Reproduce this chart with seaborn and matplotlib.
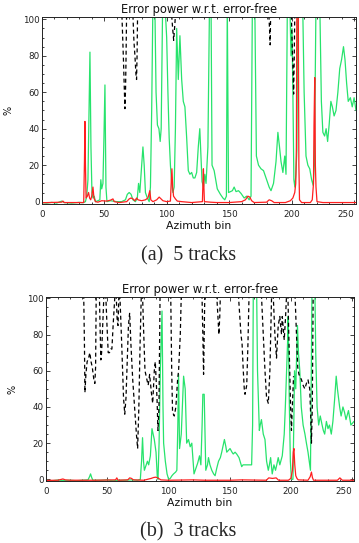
import numpy as np
import pandas as pd
import matplotlib
matplotlib.use("Agg")
import matplotlib.pyplot as plt
from matplotlib.ticker import MultipleLocator
import seaborn as sns

# ---------------- data ----------------
# Panel (a): 5 tracks
a_green_x = [0, 4, 8, 12, 16, 18, 24, 30, 33, 35, 36, 37, 37.8, 38.6, 39.4, 40.2, 41, 42, 43, 45, 46.5, 47.3, 48, 49,
             49.8, 50.6, 51.4, 52.2, 55, 60, 64, 67, 68.5, 70, 71.5, 73, 75, 76.5, 77.5, 78.5, 79.5, 81, 82, 83, 84.5,
             86, 87, 88, 89, 90.5, 91.5, 92.6, 93.8, 94.8, 95.6, 96.8, 98.5, 100, 101, 102, 103, 104, 105, 106, 107,
             108, 109.3, 110.6, 112, 113.3, 114.6, 116, 117.3, 118.6, 120, 121.3, 122.6, 124, 125.3, 126.5, 127.3,
             128.3, 129.5, 130.5, 131.5, 133, 134.3, 135.5, 136.3, 138, 140.5, 143, 145, 146.5, 147.8, 148.5, 149.5,
             151, 152.6, 154, 155.5, 157.5, 159.5, 162, 164, 166, 167.5, 168.6, 170.5, 171.8, 173.5, 175.5, 177.5,
             180, 182, 183.5, 185.5, 187.5, 189, 190.3, 191.5, 193, 194.5, 195.5, 196.6, 198.5, 199.5, 200.3, 201,
             201.8, 202.6, 203.4, 204.2, 205, 207.5, 208.8, 210, 211.5, 213, 214.5, 216, 217.2, 218.2, 219.5, 222.5,
             223.8, 225, 226.4, 227.6, 228.8, 230, 231.4, 232.6, 234, 235.5, 237, 238.5, 240, 241.5, 242.7, 244,
             245.3, 247, 248.5, 250, 251.5]
a_green_y = [-0.5, -0.8, -0.4, -0.8, 0.3, -0.5, -0.8, -0.4, -0.6, 0, 3, 12, 48, 82, 30, 5, 2, 3, 0, 0.5, 1, 12, 7, 10,
             35, 64, 8, 0, 0.5, 0, 0, 1, 4, 5, 4, 1, 0, 2, 10, 5, 15, 30, 20, 5, 2,
             0, 8, 50, 110, 110, 60, 42, 40, 33, 40, 110, 110, 90, 60, 35, 20, 10, 5, 8, 40,
             95, 67, 91, 67, 55, 52, 35, 17, 15, 16, 13, 13, 16, 30, 40, 27,
             11, 8, 15, 10, 30, 110, 110, 20, 17, 7, 4, 2, 1, 3, 110, 5,
             5.5, 6, 8, 5.5, 6, 4.5, 2, 3, 1, 3, 110, 110, 25, 20, 18, 17,
             12, 8, 6, 10, 22, 38, 30, 22, 16, 25, 15, 110, 110, 80, 95, 60,
             12, 8, 15, 28, 110, 110, 110, 60, 25, 20, 18, 12, 9, 20, 110, 110,
             55, 38, 36, 40, 33, 42, 55, 52, 47, 50, 60, 73, 78, 85, 78, 65,
             55, 57, 52, 57, 50]

a_red_x = [0, 16, 17, 18, 33.6, 34.2, 34.6, 35, 35.5, 36.5, 37.5, 38.3, 39.2, 40, 41, 41.8, 43, 45, 48, 52, 55, 57, 58,
           62, 68, 70, 71.5, 73, 74.5, 76, 77, 80, 83, 85, 86.5, 87.3, 89, 92, 94, 95.5, 97, 100, 103, 103.6, 104.2,
           104.8, 105.5, 107, 108.5, 112, 120, 128.6, 129, 129.4, 129.8, 130.2, 135, 140, 150, 160, 163, 165, 166.5,
           168, 170, 180, 182, 184, 186, 195, 199, 201, 202.5, 203.3, 203.8, 204.2, 205.3, 205.8, 206.3, 208, 215,
           216.5, 217.5, 217.9, 218.5, 219, 219.5, 220.3, 225, 251.5]
a_red_y = [-0.6, -0.3, 0.3, -0.5, -0.5, 22, 44, 20, 2, 3, 5, 2, 1, 3, 8, 2, 0, -0.3, 0.5, 0.3, 0.8, 1.5, 0,
           -0.5, 0, 1.5, 2, 1.5, 0.5, 2, 1, 0.5, 1, 2, 6, 1, 0, 1, 2.5, 1.5, 0.5, 0, 0.3, 10, 18,
           8, 3, 1.5, 0.3, 0, -0.5, 0, 10, 18, 8, 0, -0.3, -0.5, -0.5, 0, 1, 3, 2.5,
           0.5, -0.5, -0.3, 1, 0.5, -0.5, -0.5, 0.5, 2, 5, 10, 30, 110, 110, 20, 1, -0.5, -0.5,
           1, 10, 42, 68, 20, 8, 0, -0.5, -0.5]

a_black_seg = [1] * 8 + [2] * 7 + [3] * 5 + [4] * 4 + [5] * 6
a_black_x = [64.2, 64.8, 65.4, 66, 66.6, 67.1, 67.5, 67.9,
             73, 73.8, 74.6, 75.4, 75.9, 76.3, 76.7,
             104, 104.8, 105.6, 106.3, 107,
             181.8, 182.3, 182.8, 183.2,
             199.8, 200.5, 201.2, 201.6, 202, 202.5]
a_black_y = [102, 90, 78, 64, 51, 62, 80, 102,
             102, 88, 80, 70, 67, 80, 102,
             102, 95, 88.5, 95, 102,
             102, 95, 86, 102,
             102, 85, 70, 59, 75, 102]

# Panel (b): 3 tracks
b_green_x = [0, 5, 10, 15, 20, 25, 30, 34.5, 35.8, 36.6, 37.5, 38.5, 45, 50, 55, 60, 65, 70, 75, 77.2, 78.2, 79, 79.8,
             80.5, 82, 83, 84, 85.4, 86.7, 88.6, 90, 91, 91.6, 92.5, 93.5, 94.9, 95.7, 96.2, 97.6, 99, 100.3, 101.6,
             103, 104.3, 106, 107, 107.8, 108.4, 109.2, 110.6, 111.5, 112.5, 113.8, 115, 116.5, 117.9, 119.2, 121,
             122.5, 124, 125.5, 126.6, 127.6, 128.2, 129.3, 130.6, 132, 132.8, 134, 135.5, 137, 138.2, 139.5, 141,
             142.5, 143.6, 145.8, 147, 147.7, 149, 150.4, 152, 153, 154.5, 155.8, 157.7, 159, 159.9, 161, 162.6,
             165.3, 168, 168.8, 169.4, 172, 172.8, 174.3, 175, 176, 177.5, 178.9, 180.2, 181.6, 182.5, 183.5, 184.8,
             186.2, 187.5, 188.5, 189.7, 191, 193, 194.6, 195.5, 196.5, 197.3, 197.8, 198.8, 199.6, 200.5, 201.7,
             202.4, 203, 204, 205.4, 206.2, 207.3, 208.5, 210, 211.5, 212.7, 214, 215, 216, 217.3, 219.5, 220.3,
             221.4, 222.7, 224, 225.5, 226.5, 227.6, 229, 230.3, 231.5, 233, 234.3, 235.8, 237, 238, 239.8, 241,
             242.5, 243.8, 245, 247, 249, 251.5]
b_green_y = [-0.5, -0.8, -0.4, -0.7, -0.5, -0.8, -0.5, -0.3, 1.5, 3, 1, -0.5, -0.5, -0.3, -0.8, -0.5, -0.5, -0.3, -0.5,
             0, 10, 23, 10,
             5, 8, 10, 8, 13, 28, 22, 15, 2, 0, 20, 60, 93, 40, 20, 10, 3, 0, 0.5,
             2, 3, 4, 5, 30, 58, 17, 25, 40, 57, 50, 20, 22, 18, 20, 3,
             6, 9, 13, 8, 30, 47, 47, 5, 8, 12, 8, 5, 3, 2, 6, 10,
             12, 15, 22, 18, 15, 16, 17, 15, 14, 15, 14, 12, 9, 7, 8, 8,
             8, 8, 30, 110, 110, 60, 27, 30, 33, 25, 22, 10, 5, 8, 12, 3,
             8, 5, 8, 12, 8, 13, 25, 40, 60, 75, 90, 40, 10, 0, 0,
             30, 60, 50, 85, 70, 60, 40, 30, 25, 20, 15, 10, 5, 110, 110, 70,
             40, 30, 35, 30, 27, 25, 32, 28, 30, 25, 32, 45, 57, 50, 40, 35,
             40, 37, 33, 38, 30, 32]

b_red_x = [0, 10, 14, 16, 20, 40, 57, 58, 59, 67, 68.5, 70, 71.5, 80, 86, 88, 90, 92, 94, 100, 120, 130, 150, 160,
           180, 182, 185, 188, 190, 198, 200, 201.3, 202, 202.5, 203.2, 204, 205, 206, 214, 215.8, 216.8, 217.6,
           218.5, 238, 240, 242, 251.5]
b_red_y = [-0.6, -0.5, 0.2, -0.3, -0.5, -0.5, -0.3, 0.8, -0.5, -0.3, 0.8, 0.5, -0.3, -0.5, 0.5, 1, 1.2, 0.5, -0.3,
           -0.5, -0.3, -0.5, -0.5, -0.3,
           -0.5, 0.8, 0.5, 0.8, -0.5, -0.5, 0.5, 5, 15, 17, 8, 2, 0.5, -0.3, -0.5, 1.5, 4, 1,
           -0.5, -0.5, 0.8, -0.5, -0.5]

b_black_seg = ([1] * 13 + [2] * 6 + [3] * 8 + [4] * 4 + [5] * 16 + [6] * 14 + [7] * 9 + [8] * 5 + [9] * 5 +
               [10] * 9 + [11] * 7 + [12] * 10 + [13] * 7 + [14] * 14)
b_black_x = [31, 31.6, 32, 32.8, 33.8, 35, 36, 37, 38, 39.3, 40.1, 40.7, 41.2,
             43.8, 44.5, 45, 45.6, 46.5, 47.5,
             49, 50, 51, 52, 53, 54, 55, 56.5,
             57.5, 58.3, 59, 59.7,
             60.5, 62, 63.5, 64.5, 65.5, 66.5, 67.5, 68.5, 69.5, 71, 72.5, 74, 75, 76, 77, 78,
             79, 80, 81, 82.6, 83.6, 84.8, 86.2, 87.3, 88.6, 89.4, 90.8, 91.6, 92.4, 93.3,
             102, 102.8, 103.5, 104.9, 106.2, 107.6, 108.4, 109.8, 110.6,
             127.5, 128.2, 128.8, 129.3, 129.8,
             139.5, 140.5, 141.3, 142, 142.5,
             157.2, 159.3, 160.2, 161.2, 162, 162.6, 164, 165, 165.9,
             176, 177.5, 178.9, 180.2, 181.6, 182.9, 184.3,
             185.6, 187, 188.3, 189.7, 191, 192.4, 193, 194.6, 195.7, 196.5,
             197.6, 198.3, 199.1, 199.8, 200.5, 201.5, 202.2,
             203.4, 204.6, 205.6, 206.6, 208.7, 210, 211.4, 212.7, 214, 215.4, 216.2, 216.8, 217.5, 218.2]
b_black_y = [102, 75, 48, 58, 65, 67, 70, 65, 62, 55, 53, 62, 102,
             102, 80, 66, 70, 85, 102,
             102, 85, 70, 70, 72, 72, 85, 102,
             102, 88, 85, 102,
             102, 75, 45, 36, 45, 65, 85, 92, 75, 55, 40, 25, 17, 40, 75, 102,
             102, 80, 60, 55, 52, 58, 48, 42, 60, 65, 45, 27, 40, 102,
             102, 60, 37, 35, 40, 55, 60, 80, 102,
             102, 80, 58, 80, 102,
             102, 90, 80, 90, 102,
             102, 80, 75, 60, 50, 47, 52, 75, 102,
             102, 80, 60, 45, 42, 60, 102,
             102, 80, 67, 85, 90, 80, 90, 77, 90, 102,
             102, 80, 60, 40, 27, 45, 57,
             102, 80, 62, 58, 55, 52, 50, 53, 55, 50, 35, 20, 40, 102]

x_ticks = [0, 50, 100, 150, 200, 250]
y_ticks = [0, 20, 40, 60, 80, 100]
title_text = "Error power w.r.t. error-free"
x_label = "Azimuth bin"
y_label = "%"
captions = ["(a)  5 tracks", "(b)  3 tracks"]

GREEN = "#27e36c"
RED = "#ff1f1f"

# ---------------- style ----------------
sns.set_theme(style="ticks")
plt.rcParams["font.family"] = ["DejaVu Sans"]
plt.rcParams["axes.linewidth"] = 0.7
plt.rcParams["axes.edgecolor"] = "#222222"

fig = plt.figure(figsize=(3.59, 5.43), dpi=100)
ax1 = fig.add_axes([0.1162, 0.6243, 0.8754, 0.3438])
ax2 = fig.add_axes([0.1273, 0.1136, 0.8587, 0.3389])

panels = [
    (ax1, a_green_x, a_green_y, a_red_x, a_red_y, a_black_seg, a_black_x, a_black_y, (-1.3, 101.1), -0.091),
    (ax2, b_green_x, b_green_y, b_red_x, b_red_y, b_black_seg, b_black_x, b_black_y, (-1.1, 100.6), -0.090),
]

for ax, gx, gy, rx, ry, bs, bx, by, ylim, ylab_x in panels:
    dg = pd.DataFrame({"bin": gx, "val": gy})
    dr = pd.DataFrame({"bin": rx, "val": ry})
    db = pd.DataFrame({"bin": bx, "val": by, "seg": bs})
    sns.lineplot(data=dg, x="bin", y="val", ax=ax, color=GREEN, lw=0.9,
                 estimator=None, sort=False)
    sns.lineplot(data=db, x="bin", y="val", units="seg", ax=ax, color="black", lw=0.9,
                 estimator=None, sort=False, linestyle=(0, (3.2, 2.4)))
    sns.lineplot(data=dr, x="bin", y="val", ax=ax, color=RED, lw=0.9,
                 estimator=None, sort=False)

    ax.set_xlim(0, 251.5)
    ax.set_ylim(*ylim)
    ax.set_xticks(x_ticks, labels=[str(t) for t in x_ticks])
    ax.set_yticks(y_ticks, labels=[str(t) for t in y_ticks])
    ax.xaxis.set_minor_locator(MultipleLocator(10))
    ax.yaxis.set_minor_locator(MultipleLocator(5))
    ax.tick_params(which="both", direction="in", top=True, right=True,
                   width=0.6, colors="#222222", labelsize=6.3)
    ax.tick_params(which="major", length=3.0)
    ax.tick_params(which="minor", length=1.5)
    ax.tick_params(axis="x", pad=4)
    ax.tick_params(axis="y", pad=1.5)
    ax.get_xticklabels()[-1].set_horizontalalignment("right")
    ax.set_title(title_text, fontsize=8.3, pad=3.0, color="#111111")
    ax.set_xlabel(x_label, fontsize=7.8, labelpad=1.5, color="#111111")
    ax.set_ylabel(y_label, fontsize=7, color="#111111")
    ax.yaxis.set_label_coords(ylab_x, 0.5)
    for sp in ax.spines.values():
        sp.set_visible(True)
    ax.set_facecolor("white")

fig.text(0.524, 1 - 256 / 543, captions[0], ha="center", va="center",
         fontsize=14.5, family=["Liberation Serif"])
fig.text(0.524, 1 - 531.5 / 543, captions[1], ha="center", va="center",
         fontsize=14.5, family=["Liberation Serif"])

fig.savefig("out.png", dpi=100, facecolor="white")
